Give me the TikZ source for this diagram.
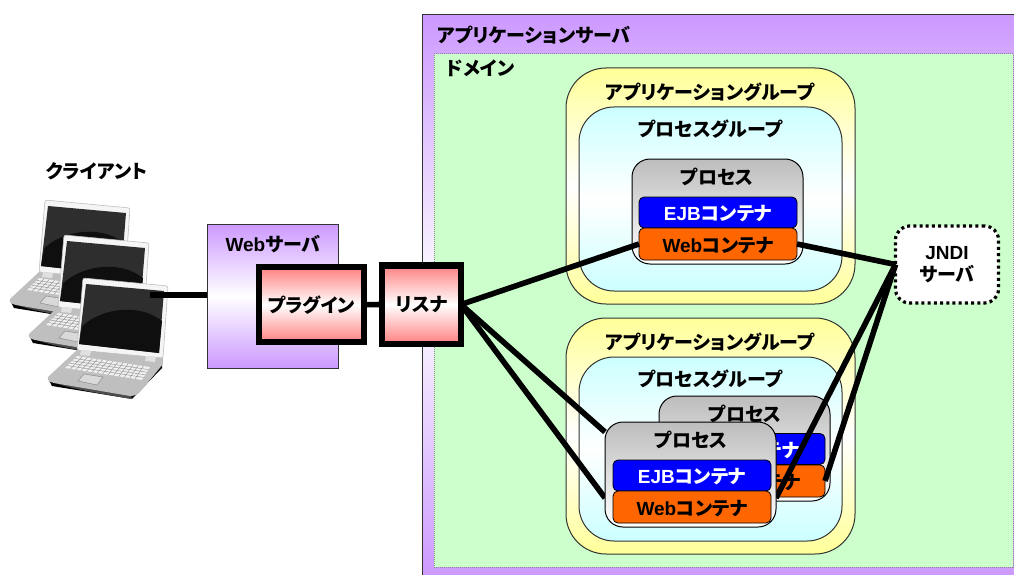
\documentclass[tikz,border=0pt]{standalone}
\usepackage{fontspec}
\setmainfont{Liberation Sans}
\newfontfamily\jpf[RawFeature=+palt]{Noto Sans CJK JP}
\usetikzlibrary{calc}
\definecolor{purp}{HTML}{CC99FF}
\definecolor{dom}{HTML}{CCFFCC}
\definecolor{yel}{HTML}{FFFF99}
\definecolor{cya}{HTML}{CCFFFF}
\definecolor{gry}{HTML}{BDBDBD}
\definecolor{pnk}{HTML}{FF8080}
\definecolor{org}{HTML}{FF6600}
\definecolor{edge}{HTML}{333333}
\newcommand{\J}[1]{{\jpf\bfseries #1}}
\tikzset{
  x=1pt,y=-1pt,
  every node/.style={inner sep=0pt,outer sep=0pt,font=\fontsize{19}{22}\selectfont\bfseries,align=center},
  band/.style={top color=#1,bottom color=#1,middle color=white,draw=edge,line width=1pt},
  procbox/.style={top color=gry,bottom color=white,draw=black,line width=1pt,rounded corners=18pt,minimum width=171pt,minimum height=105pt},
  ejbbox/.style={fill=blue,draw=black,line width=.8pt,rounded corners=5pt,text=white,minimum height=31pt,text height=16pt,text depth=0pt},
  webbox/.style={fill=org,draw=black,line width=.8pt,rounded corners=5pt,minimum height=32pt,text height=16pt,text depth=0pt},
  agroup/.style={band=yel,rounded corners=40pt,minimum width=289pt,minimum height=236pt},
  pgroup/.style={band=cya,rounded corners=35pt,minimum width=263pt,minimum height=184pt},
  thick box/.style={band=pnk,draw=black,line width=6.5pt},
  conn/.style={line width=5.6pt,draw=black},
  pics/laptop/.style={code={
    % base underside
    \fill[black] (48,378) -- (52,386) -- (132,399) -- (162,368) -- (162,362) -- cycle;
    \fill[black!70] (48,378) .. controls (50,385) and (90,392) .. (132,399) -- (130,392) -- cycle;
    % base
    \fill[black!25] (77,350) -- (48,377) .. controls (47,381) and (50,382) .. (54,383) -- (130,396) .. controls (135,396) and (138,394) .. (140,392) -- (163,364) -- (163,357) -- cycle;
    % keyboard
    \coordinate (ka) at (77,356);\coordinate (kb) at (150,367);\coordinate (kc) at (142,380);\coordinate (kd) at (65,368);
    \fill[black!6] (ka) -- (kb) -- (kc) -- (kd) -- cycle;
    \foreach \t in {.2,.4,.6,.8} \draw[black!40,line width=.5pt] ($(ka)!\t!(kd)$) -- ($(kb)!\t!(kc)$);
    \foreach \t in {.07,.14,...,.95} \draw[black!40,line width=.5pt] ($(ka)!\t!(kb)$) -- ($(kd)!\t!(kc)$);
    % touchpad
    \draw[black!45,fill=black!15,line width=.5pt] (84,374) -- (103,377) -- (97,385) -- (78,381) -- cycle;
    % lid
    \fill[black!4,draw=black!25,line width=.6pt,rounded corners=2pt] (83,278) -- (168,286) -- (163,358) -- (77,350) -- cycle;
    % hinges
    \fill[black!12] (81,350) -- (91,351) -- (90,356) -- (80,355) -- cycle;
    \fill[black!12] (146,356) -- (156,357) -- (155,362) -- (145,361) -- cycle;
    % screen
    \fill[black!82] (86,284) -- (164,291) -- (159,353) -- (79,344) -- cycle;
    \fill[black!94] (82,327) .. controls (95,312) and (135,300) .. (162,321) -- (159,353) -- (79,344) -- cycle;
  }}
}
\begin{document}
\begin{tikzpicture}
\useasboundingbox (0,0) rectangle (1014,575);
% application server
\node[band=purp,minimum width=594pt,minimum height=562pt] (server) at (719,296) {};
\node[fill=dom,draw=black!45,densely dotted,line width=1pt,minimum width=579pt,minimum height=513pt] (domain) at (723.5,310.5) {};
\node (serverT) at (534,35) {\J{アプリケーションサーバ}};
\node (domainT) at (480.5,68) {\J{ドメイン}};
% upper group
\node[agroup] (ag1) at (710.5,186) {};
\node[pgroup] (pg1) at (710.5,199) {};
\node (ag1T) at (710,92) {\J{アプリケーショングループ}};
\node (pg1T) at (710,129) {\J{プロセスグループ}};
\node[procbox] (p1) at (717.5,211.5) {};
\node (p1T) at (717,177) {\J{プロセス}};
\node[ejbbox,minimum width=158pt] (ejb1) at (718,212.5) {EJB\J{コンテナ}};
\node[webbox,minimum width=158pt] (web1) at (718,244) {Web\J{コンテナ}};
% lower group
\node[agroup] (ag2) at (710.5,436) {};
\node[pgroup] (pg2) at (710.5,449) {};
\node (ag2T) at (710,342) {\J{アプリケーショングループ}};
\node (pg2T) at (710,379) {\J{プロセスグループ}};
\node[procbox] (p2) at (744.5,448.5) {};
\node (p2T) at (745,414) {\J{プロセス}};
\node[ejbbox,minimum width=159pt] (ejb2) at (745.5,449) {EJB\J{コンテナ}};
\node[webbox,minimum width=159pt] (web2) at (745.5,481) {Web\J{コンテナ}};
% JNDI
\node[fill=white,draw=black,line width=3.2pt,dash pattern=on 3pt off 3.2pt,rounded corners=14pt,minimum width=103pt,minimum height=77pt] (jndi) at (947,264.5) {JNDI\\\J{サーバ}};
% clients
\pic at (-38,-78) {laptop};
\pic at (-19,-43) {laptop};
\pic at (0,0) {laptop};
\coordinate (client) at (150,295);
\node (clientT) at (96.5,171) {\J{クライアント}};
% web server
\node[band=purp,minimum width=131pt,minimum height=144pt] (websrv) at (272.5,296) {};
\node (websrvT) at (273,244) {Web\J{サーバ}};
\node[thick box,minimum width=105pt,minimum height=75pt] (plugin) at (311.5,304.7) {\J{プラグイン}};
\node[thick box,minimum width=79pt,minimum height=78.5pt] (listener) at (421.5,304.5) {\J{リスナ}};
% connectors behind the front process
\draw[conn] (client) -- (websrv.west |- client);
\draw[conn] (plugin.east) -- (listener.west);
\draw[conn] (listener.east) -- (web1.west);
\draw[conn] (web1.east) -- (jndi.west);
\draw[conn] (jndi.west) -- (web2.east);
% front process
\coordinate (f1) at (605,432);
\coordinate (f2) at (605,498);
\coordinate (f3) at (776,498);
\draw[conn] (listener.east) -- (f1);
\draw[conn] (listener.east) -- (f2);
\draw[conn] (jndi.west) -- (f3);
\node[procbox] (p3) at (690.5,474.5) {};
\node (p3T) at (691,440) {\J{プロセス}};
\node[ejbbox,minimum width=158pt] (ejb3) at (692,475.5) {EJB\J{コンテナ}};
\node[webbox,minimum width=158pt] (web3) at (692,507) {Web\J{コンテナ}};
\end{tikzpicture}
\end{document}
